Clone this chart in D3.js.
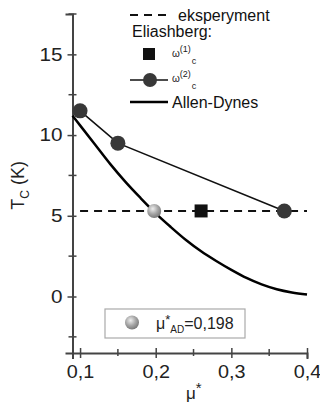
<!DOCTYPE html>
<html>
<head>
<meta charset="utf-8">
<script src="https://cdn.jsdelivr.net/npm/d3@7"></script>
<style>
  html, body { margin: 0; padding: 0; background: #fff; }
  svg { display: block; font-family: Arial, "Liberation Sans", sans-serif; }
</style>
</head>
<body>
<svg id="chart" width="320" height="404"></svg>
<script>
// Allen-Dynes curve (mu*, Tc in K)
const adMu = [0.09, 0.10, 0.12, 0.14, 0.16, 0.18, 0.20, 0.22, 0.24, 0.26, 0.28, 0.30, 0.32, 0.34, 0.36, 0.38, 0.40];
const adTc = [11.2, 10.6, 9.4, 8.2, 7.1, 6.1, 5.15, 4.3, 3.5, 2.8, 2.2, 1.65, 1.15, 0.75, 0.45, 0.25, 0.12];

// Eliashberg results
const omega2Mu = [0.10, 0.15, 0.37];
const omega2Tc = [11.5, 9.5, 5.3];
const omega1Mu = [0.26];
const omega1Tc = [5.3];

// experiment and fitted Allen-Dynes mu*
const expTc = 5.3;
const expMuRange = [0.1, 0.4];
const muAD = 0.198;

const xTicks = [0.1, 0.2, 0.3, 0.4];
const xMinor = [0.15, 0.25, 0.35];
const yTicks = [0, 5, 10, 15];
const yMinor = [-2.5, 2.5, 7.5, 12.5, 17.5];

const svg = d3.select("#chart");
const m = { left: 72.5, right: 13, top: 14, bottom: 51 };
const W = 320, H = 404;

const x = d3.scaleLinear().domain([0.09, 0.4]).range([m.left, W - m.right]);
const y = d3.scaleLinear().domain([-3.5, 17.5]).range([H - m.bottom, m.top]);

const fmt = d => d3.format(".1f")(d).replace(".", ",");
const axisColor = "#444";

// widen glyphs horizontally by factor k
function stretch(sel, k) {
  sel.each(function () {
    const L = this.getComputedTextLength();
    d3.select(this).attr("textLength", L * k).attr("lengthAdjust", "spacingAndGlyphs");
  });
}

// gradient for the grey sphere marker
const defs = svg.append("defs");
const grad = defs.append("radialGradient").attr("id", "sphere")
  .attr("cx", "40%").attr("cy", "35%").attr("r", "65%");
grad.append("stop").attr("offset", "0%").attr("stop-color", "#eeeeee");
grad.append("stop").attr("offset", "55%").attr("stop-color", "#a8a8a8");
grad.append("stop").attr("offset", "100%").attr("stop-color", "#7a7a7a");

// axes
const gy = svg.append("g").attr("transform", `translate(${m.left},0)`)
  .call(d3.axisLeft(y).tickValues(yTicks).tickSize(7).tickFormat(d3.format("d")));
const gx = svg.append("g").attr("transform", `translate(0,${H - m.bottom})`)
  .call(d3.axisBottom(x).tickValues(xTicks).tickSize(6).tickFormat(fmt));

[gx, gy].forEach(g => {
  g.select(".domain").attr("stroke", axisColor).attr("stroke-width", 2);
  g.selectAll(".tick line").attr("stroke", axisColor).attr("stroke-width", 1.5);
  g.selectAll(".tick text").attr("fill", "#222").attr("font-size", 18)
    .attr("font-family", "Arial, 'Liberation Sans', sans-serif");
});
// major ticks cross the axis line
gy.selectAll(".tick line").attr("x1", 4).attr("x2", -5);
gy.selectAll(".tick text").attr("x", -10);
gx.selectAll(".tick line").attr("y1", -5).attr("y2", 5);
gx.selectAll(".tick text").attr("y", 12);
stretch(gy.selectAll(".tick text"), 1.15);
stretch(gx.selectAll(".tick text"), 1.1);

// minor ticks
svg.append("g").selectAll("line").data(yMinor).join("line")
  .attr("x1", m.left - 4).attr("x2", m.left + 4)
  .attr("y1", d => y(d)).attr("y2", d => y(d))
  .attr("stroke", axisColor).attr("stroke-width", 1.5);
svg.append("g").selectAll("line").data(xMinor).join("line")
  .attr("x1", d => x(d)).attr("x2", d => x(d))
  .attr("y1", H - m.bottom - 4).attr("y2", H - m.bottom + 3)
  .attr("stroke", axisColor).attr("stroke-width", 1.5);

// axis titles
const yt = svg.append("text")
  .attr("transform", `translate(24,${(y(10) + y(5)) / 2 + 10}) rotate(-90)`)
  .attr("text-anchor", "middle").attr("font-size", 18).attr("fill", "#222");
yt.append("tspan").text("T");
yt.append("tspan").attr("font-size", 12).attr("dy", 5).text("C");
yt.append("tspan").attr("dy", -5).text(" (K)");

const xt = svg.append("text").attr("x", 186).attr("y", 399)
  .attr("font-size", 17).attr("fill", "#222");
xt.append("tspan").text("μ");
xt.append("tspan").attr("font-size", 15).attr("dy", -6).text("*");

// experiment dashed line
svg.append("line")
  .attr("x1", x(expMuRange[0])).attr("x2", x(expMuRange[1]))
  .attr("y1", y(expTc)).attr("y2", y(expTc))
  .attr("stroke", "#111").attr("stroke-width", 2).attr("stroke-dasharray", "8,6");

// Allen-Dynes curve
svg.append("path")
  .datum(adMu.map((d, i) => [d, adTc[i]]))
  .attr("fill", "none").attr("stroke", "#000").attr("stroke-width", 2.5)
  .attr("d", d3.line().x(d => x(d[0])).y(d => y(d[1])).curve(d3.curveMonotoneX));

// Eliashberg omega_c^(2): line with circles
const o2 = omega2Mu.map((d, i) => [d, omega2Tc[i]]);
svg.append("path").datum(o2)
  .attr("fill", "none").attr("stroke", "#111").attr("stroke-width", 1.6)
  .attr("d", d3.line().x(d => x(d[0])).y(d => y(d[1])));
svg.append("g").selectAll("circle").data(o2).join("circle")
  .attr("cx", d => x(d[0])).attr("cy", d => y(d[1])).attr("r", 7.5)
  .attr("fill", "#383838");

// Eliashberg omega_c^(1): square
svg.append("g").selectAll("rect").data(omega1Mu.map((d, i) => [d, omega1Tc[i]])).join("rect")
  .attr("x", d => x(d[0]) - 6.5).attr("y", d => y(d[1]) - 6.5)
  .attr("width", 13).attr("height", 13).attr("fill", "#111");

// Allen-Dynes fitted mu* marker
svg.append("circle").attr("cx", x(muAD)).attr("cy", y(expTc)).attr("r", 7)
  .attr("fill", "url(#sphere)");

// top legend
const lg = svg.append("g");
lg.append("line").attr("x1", 130).attr("x2", 170).attr("y1", 15).attr("y2", 15)
  .attr("stroke", "#111").attr("stroke-width", 2).attr("stroke-dasharray", "8,6");
lg.append("text").attr("x", 178).attr("y", 21).attr("font-size", 16).attr("fill", "#111").text("eksperyment");
lg.append("text").attr("x", 132).attr("y", 37).attr("font-size", 16).attr("fill", "#111").text("Eliashberg:");
lg.append("rect").attr("x", 143).attr("y", 48).attr("width", 12).attr("height", 12).attr("fill", "#111");

function omegaLabel(x0, yb, sup) {
  const t = lg.append("text").attr("x", x0).attr("y", yb).attr("fill", "#222").attr("font-size", 10);
  t.append("tspan").text("ω");
  t.append("tspan").attr("font-size", 9).attr("dy", -5).text(sup);
  t.append("tspan").attr("font-size", 9).attr("dx", 1).attr("dy", 12).text("c");
}
omegaLabel(172, 57, "(1)");

lg.append("line").attr("x1", 130).attr("x2", 168).attr("y1", 80).attr("y2", 80)
  .attr("stroke", "#111").attr("stroke-width", 1.6);
lg.append("circle").attr("cx", 150).attr("cy", 80).attr("r", 7).attr("fill", "#383838");
omegaLabel(172, 82, "(2)");

lg.append("line").attr("x1", 130).attr("x2", 168).attr("y1", 102).attr("y2", 102)
  .attr("stroke", "#000").attr("stroke-width", 2.5);
lg.append("text").attr("x", 172).attr("y", 108).attr("font-size", 16).attr("fill", "#111").text("Allen-Dynes");

// inset legend for mu*_AD
const box = svg.append("g");
box.append("rect").attr("x", 105).attr("y", 309).attr("width", 140).attr("height", 29)
  .attr("fill", "#fff").attr("stroke", "#aaa").attr("stroke-width", 1.2);
box.append("circle").attr("cx", 132).attr("cy", 322.5).attr("r", 7).attr("fill", "url(#sphere)");
const bt = box.append("text").attr("x", 156).attr("y", 329).attr("font-size", 16).attr("fill", "#222");
bt.append("tspan").text("μ");
bt.append("tspan").attr("dy", -5).attr("font-size", 13).text("*");
bt.append("tspan").attr("dy", 9).attr("font-size", 10).text("AD");
bt.append("tspan").attr("dy", -4).text("=" + d3.format(".3f")(muAD).replace(".", ","));
</script>
</body>
</html>
